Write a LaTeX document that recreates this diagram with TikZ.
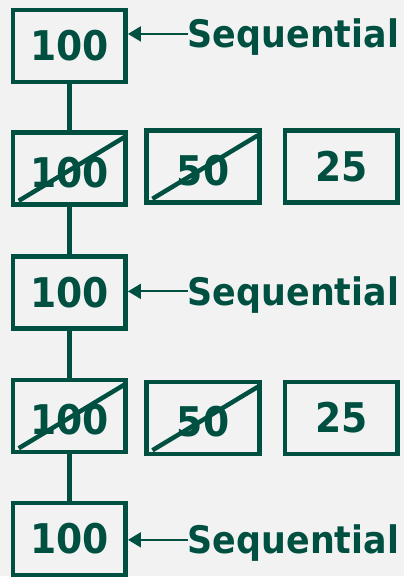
\documentclass[tikz,border=0pt]{standalone}
\usepackage{fontspec}
\setmainfont{DejaVu Sans}
\usetikzlibrary{arrows.meta}
\definecolor{pinegreen}{RGB}{0,80,66}
\definecolor{paper}{RGB}{242,242,242}
\newcommand{\narrow}[1]{\scalebox{0.92}[1]{#1}}

\begin{document}
\begin{tikzpicture}[
    x=1pt, y=-1pt,
    blk/.style={draw=pinegreen, line width=4.5pt, minimum width=113pt,
                minimum height=72pt, inner sep=0pt, text=pinegreen,
                font=\fontsize{41}{41}\selectfont\bfseries},
    crossed/.style={blk, text height=38pt},
    seq/.style={font=\fontsize{38}{38}\selectfont\bfseries, text=pinegreen,
                inner sep=0pt, text height=27.5pt, text depth=0pt, anchor=west},
    feed/.style={-{Triangle[length=13pt,width=15pt]}, line width=2pt, pinegreen},
    link/.style={line width=4.5pt, pinegreen},
    strike/.style={line width=4.5pt, pinegreen},
]
\fill[paper] (0,0) rectangle (405,577);

% Main column
\node[blk]     (b1)  at (69.5,46)  {\narrow{100}};
\node[crossed] (b2a) at (69.5,169) {\narrow{100}};
\node[blk]     (b3)  at (69.5,293) {\narrow{100}};
\node[crossed] (b4a) at (69.5,417) {\narrow{100}};
\node[blk]     (b5)  at (69.5,540) {\narrow{100}};

% Side boxes
\node[crossed] (b2b) at (203.5,167) {\narrow{50}};
\node[blk]     (b2c) at (342,167)   {\narrow{25}};
\node[crossed] (b4b) at (203.5,419) {\narrow{50}};
\node[blk]     (b4c) at (342,419)   {\narrow{25}};

% Column links
\draw[link] (b1.south)  -- (b2a.north);
\draw[link] (b2a.south) -- (b3.north);
\draw[link] (b3.south)  -- (b4a.north);
\draw[link] (b4a.south) -- (b5.north);

% Struck-out boxes
\foreach \b in {b2a,b2b,b4a,b4b}
    \draw[strike] ([shift={(8,-6)}]\b.south west) -- ([shift={(-4,7)}]\b.north east);

% Labels
\node[seq] (s1) at (188,34)  {\narrow{Sequential}};
\node[seq] (s3) at (188,292) {\narrow{Sequential}};
\node[seq] (s5) at (188,541) {\narrow{Sequential}};

\draw[feed] (s1.west) -- (b1.east |- s1.west);
\draw[feed] (s3.west) -- (b3.east |- s3.west);
\draw[feed] (s5.west) -- (b5.east |- s5.west);
\end{tikzpicture}
\end{document}
